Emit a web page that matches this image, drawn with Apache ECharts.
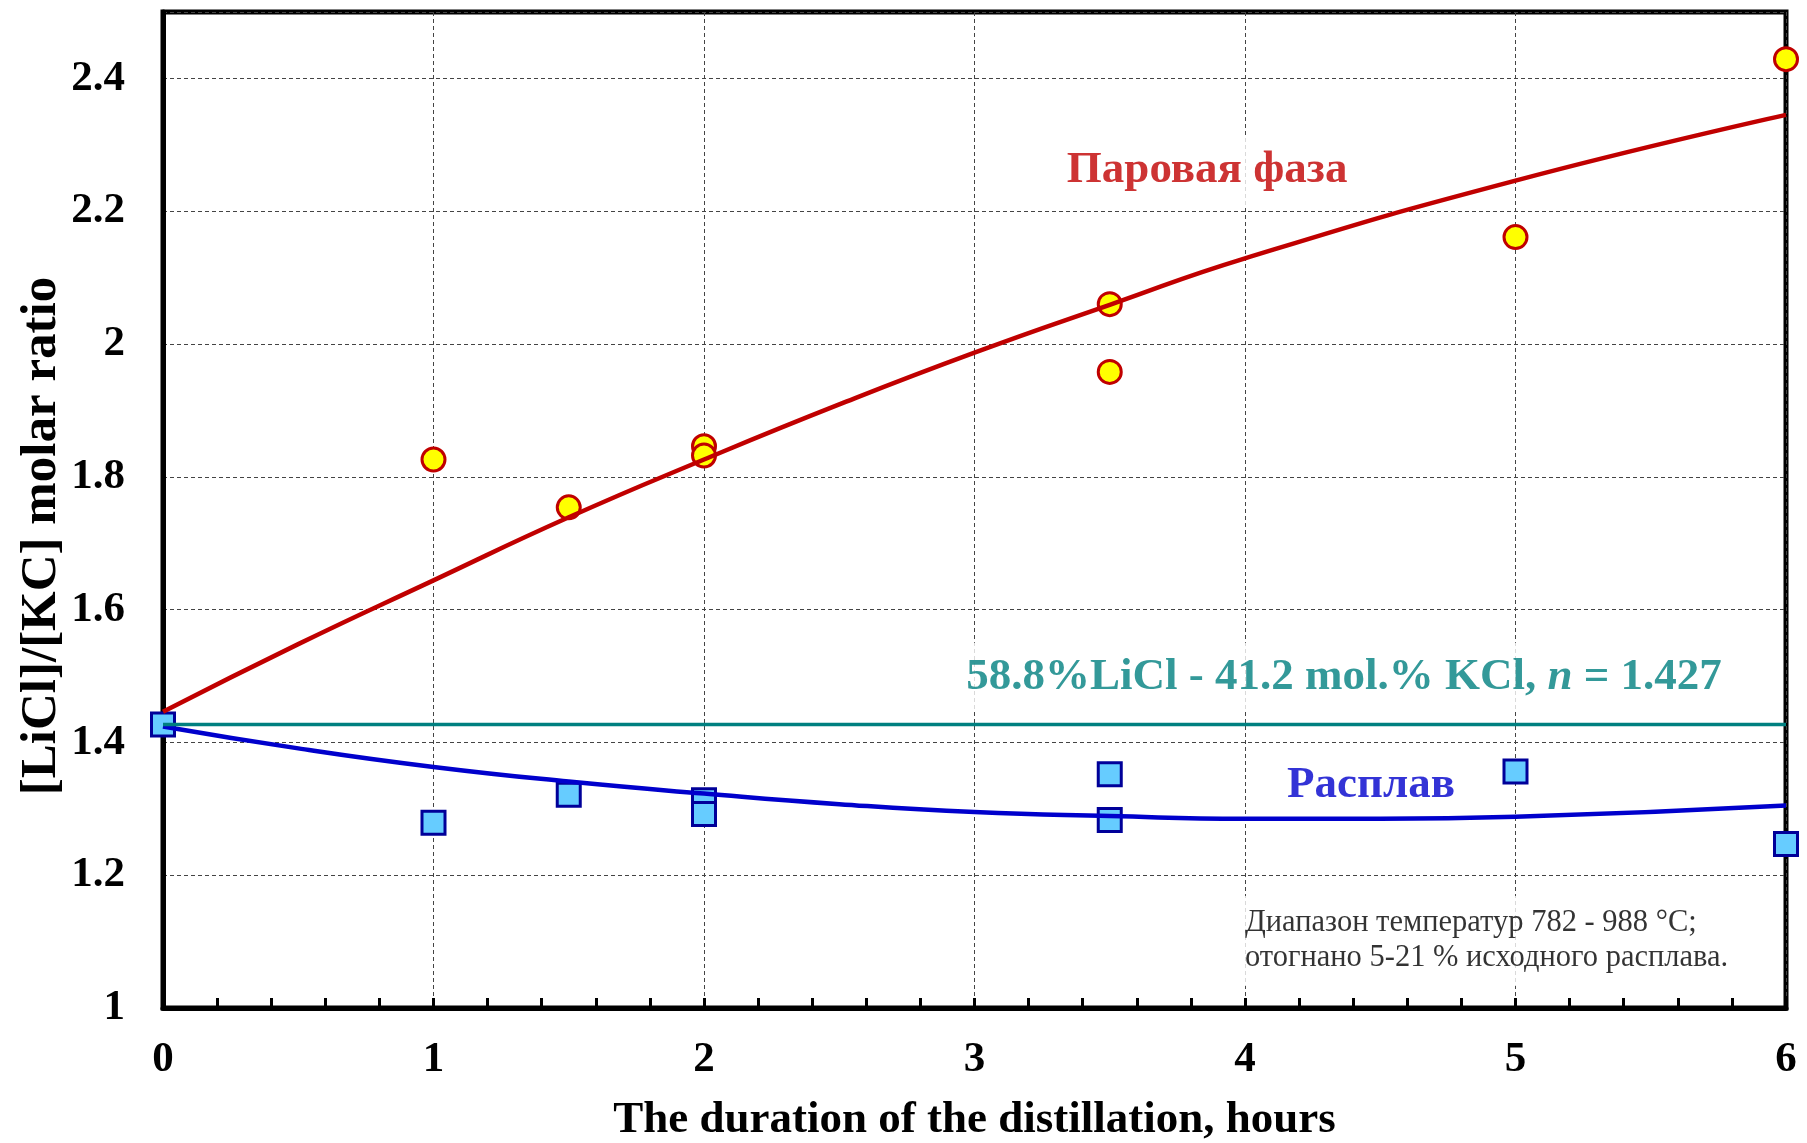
<!DOCTYPE html>
<html>
<head>
<meta charset="utf-8">
<script src="https://cdn.jsdelivr.net/npm/echarts@6/dist/echarts.min.js"></script>
<style>
  html, body { margin: 0; padding: 0; background: #fff; overflow: hidden; }
  #chart { width: 1807px; height: 1143px; }
</style>
</head>
<body>
<div id="chart"></div>
<script>
// ---- Data ----
// Vapour phase (yellow circles)
const vaporX = [1, 1.5, 2, 2, 3.5, 3.5, 5, 6];
const vaporY = [1.826, 1.754, 1.846, 1.832, 2.060, 1.958, 2.161, 2.429];
// Melt (blue squares)
const meltX = [0, 1, 1.5, 2, 2, 3.5, 3.5, 5, 6];
const meltY = [1.427, 1.279, 1.321, 1.313, 1.292, 1.352, 1.283, 1.356, 1.247];
// Fitted curve for vapour phase
const vaporFitX = [0, 0.5, 1, 1.5, 2, 2.5, 3, 3.5, 4, 5, 6];
const vaporFitY = [1.446, 1.548, 1.644, 1.739, 1.826, 1.909, 1.987, 2.059, 2.129, 2.246, 2.345];
// Fitted curve for melt
const meltFitX = [0, 0.5, 1, 1.5, 2, 2.5, 3, 3.5, 4, 4.5, 5, 6];
const meltFitY = [1.424, 1.391, 1.363, 1.341, 1.323, 1.307, 1.295, 1.289, 1.285, 1.285, 1.288, 1.305];
// Initial composition line
const initialN = 1.427;
const initialLineX = [0, 6];
// Axis ticks
const xTicks = [0, 1, 2, 3, 4, 5, 6];
const yTicks = [1, 1.2, 1.4, 1.6, 1.8, 2, 2.2, 2.4];

// Texts
const xTitle = 'The duration of the distillation, hours';
const yTitle = '[LiCl]/[KC] molar ratio';
const vaporLabel = 'Паровая фаза';
const meltLabel = 'Расплав';
const compLabelA = '58.8%LiCl - 41.2 mol.% KCl, ';
const compLabelN = 'n';
const compLabelB = ' = 1.427';
const noteText = 'Диапазон температур 782 - 988 °C;\nотогнано 5-21 % исходного расплава.';

const zip = (xs, ys) => xs.map((x, i) => [x, ys[i]]);

const FONT = '"Liberation Serif", "Times New Roman", serif';
const RED = '#C00000';
const BLUE = '#0000CC';
const TEAL = '#008080';
const gridLine = { show: true, lineStyle: { color: '#444', width: 1, type: [4, 3] } };

const chart = echarts.init(document.getElementById('chart'), null, { renderer: 'canvas' });

chart.setOption({
  animation: false,
  backgroundColor: '#fff',
  grid: {
    left: 163, right: 21, top: 12, bottom: 135,
    outerBoundsMode: 'none',
    containLabel: false,
    show: true, borderColor: '#000', borderWidth: 5, backgroundColor: 'transparent'
  },
  graphic: [
    {
      type: 'text',
      x: 42, y: 536,
      rotation: Math.PI / 2,
      style: {
        text: yTitle,
        fontFamily: FONT, fontWeight: 'bold', fontSize: 51,
        fill: '#000', align: 'center', verticalAlign: 'middle'
      }
    }
  ],
  xAxis: {
    type: 'value',
    min: xTicks[0], max: xTicks[xTicks.length - 1], interval: 1,
    name: xTitle,
    nameLocation: 'middle',
    nameGap: 90,
    nameTextStyle: { fontFamily: FONT, fontWeight: 'bold', fontSize: 45, color: '#000' },
    axisLine: { show: true, lineStyle: { color: '#000', width: 5 } },
    axisTick: { show: true, inside: true, length: 10, lineStyle: { color: '#000', width: 3 } },
    minorTick: { show: true, splitNumber: 5, length: 10, lineStyle: { color: '#000', width: 3 } },
    axisLabel: { fontFamily: FONT, fontWeight: 'bold', fontSize: 43, color: '#000', margin: 30 },
    splitLine: gridLine
  },
  yAxis: {
    type: 'value',
    min: yTicks[0], max: 2.5, interval: 0.2,
    axisLine: { show: true, lineStyle: { color: '#000', width: 5 } },
    axisTick: { show: false },
    axisLabel: { fontFamily: FONT, fontWeight: 'bold', fontSize: 43, color: '#000', margin: 38, showMaxLabel: false },
    splitLine: gridLine
  },
  series: [
    {
      name: 'vapor', type: 'scatter', data: zip(vaporX, vaporY),
      symbol: 'circle', symbolSize: 23, clip: false, z: 2,
      itemStyle: { color: '#FFFF00', borderColor: RED, borderWidth: 3, opacity: 1 }
    },
    {
      name: 'melt', type: 'scatter', data: zip(meltX, meltY),
      symbol: 'rect', symbolSize: 23, clip: false, z: 2,
      itemStyle: { color: '#66CCFF', borderColor: '#000099', borderWidth: 3, opacity: 1 }
    },
    {
      name: 'vaporFit', type: 'line', data: zip(vaporFitX, vaporFitY),
      smooth: 0.5, showSymbol: false, z: 3, clip: false,
      lineStyle: { color: RED, width: 4.5 }
    },
    {
      name: 'meltFit', type: 'line', data: zip(meltFitX, meltFitY),
      smooth: 0.5, showSymbol: false, z: 3, clip: false,
      lineStyle: { color: BLUE, width: 4.5 }
    },
    {
      name: 'initial', type: 'line', data: initialLineX.map(x => [x, initialN]),
      showSymbol: false, z: 3, clip: false,
      lineStyle: { color: TEAL, width: 3.5 }
    },
    {
      name: 'labels', type: 'scatter', symbolSize: 0, silent: true, z: 5, clip: false,
      data: [
        {
          value: [3.86, 2.261],
          label: {
            show: true, position: 'inside', formatter: vaporLabel,
            fontFamily: FONT, fontWeight: 'bold', fontSize: 45, color: RED,
            backgroundColor: '#fff', padding: [12, 14]
          }
        },
        {
          value: [4.366, 1.498],
          label: {
            show: true, position: 'inside',
            formatter: '{b|' + compLabelA + '}{i|' + compLabelN + '}{b|' + compLabelB + '}',
            backgroundColor: '#fff', padding: [12, 16],
            rich: {
              b: { fontFamily: FONT, fontWeight: 'bold', fontSize: 45, color: TEAL },
              i: { fontFamily: FONT, fontWeight: 'bold', fontStyle: 'italic', fontSize: 45, color: TEAL }
            }
          }
        },
        {
          value: [4.466, 1.336],
          label: {
            show: true, position: 'inside', formatter: meltLabel,
            fontFamily: FONT, fontWeight: 'bold', fontSize: 45, color: BLUE
          }
        },
        {
          value: [3.97, 1.101],
          label: {
            show: true, position: 'right', distance: 0, align: 'left', formatter: noteText,
            fontFamily: FONT, fontWeight: 'normal', fontSize: 30.5, lineHeight: 35, color: '#000',
            backgroundColor: '#fff', padding: [10, 8]
          }
        }
      ]
    }
  ]
});
</script>
</body>
</html>
